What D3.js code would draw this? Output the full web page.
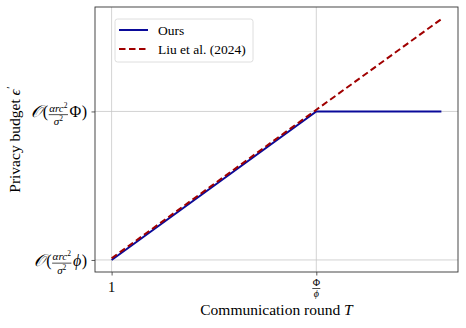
<!DOCTYPE html>
<html>
<head>
<meta charset="utf-8">
<script src="https://cdn.jsdelivr.net/npm/d3@7"></script>
<style>
  body { margin: 0; background: #fff; }
  text { font-family: "Liberation Serif", "DejaVu Serif", serif; fill: #000; }
</style>
</head>
<body>
<script>
// data (phi = 1, Phi = 10 in plot units)
var rounds = [1, 10, 15.5];
var ours = [1, 10, 10];
var liu = [1.1, 10.1, 15.6];
var seriesNames = ["Ours", "Liu et al. (2024)"];

var width = 466, height = 328;
var margin = {left: 95, right: 8, top: 7, bottom: 56};
var pw = width - margin.left - margin.right;
var ph = height - margin.top - margin.bottom;

var svg = d3.select("body").append("svg")
    .attr("width", width)
    .attr("height", height);

// matplotlib style 5% padding
var xpad = (15.6 - 1) * 0.05, ypad = (15.6 - 1) * 0.05;
var x = d3.scaleLinear().domain([1 - xpad, 15.5 + xpad]).range([0, pw]);
var y = d3.scaleLinear().domain([1 - ypad, 15.6 + ypad]).range([ph, 0]);

var g = svg.append("g")
    .attr("transform", "translate(" + margin.left + "," + margin.top + ")");

// grid
var xTicks = [1, 10], yTicks = [1, 10];
g.selectAll("line.gx").data(xTicks).enter().append("line")
    .attr("x1", function(d) {return x(d);}).attr("x2", function(d) {return x(d);})
    .attr("y1", 0).attr("y2", ph)
    .attr("stroke", "#c8c8c8").attr("stroke-width", 0.8);
g.selectAll("line.gy").data(yTicks).enter().append("line")
    .attr("y1", function(d) {return y(d);}).attr("y2", function(d) {return y(d);})
    .attr("x1", 0).attr("x2", pw)
    .attr("stroke", "#c8c8c8").attr("stroke-width", 0.8);

// lines
var line = d3.line()
    .x(function(d) {return x(d[0]);})
    .y(function(d) {return y(d[1]);});

g.append("path")
    .datum(d3.zip(rounds, ours))
    .attr("d", line)
    .attr("fill", "none")
    .attr("stroke", "#0a0a9a")
    .attr("stroke-width", 2);

g.append("path")
    .datum(d3.zip(rounds, liu))
    .attr("d", line)
    .attr("fill", "none")
    .attr("stroke", "#a00000")
    .attr("stroke-width", 2)
    .attr("stroke-dasharray", "6.5,3.5");

// axes
var xAxis = g.append("g")
    .attr("transform", "translate(0," + ph + ")")
    .call(d3.axisBottom(x).tickValues(xTicks).tickSize(3.5).tickFormat(""));
var yAxis = g.append("g")
    .call(d3.axisLeft(y).tickValues(yTicks).tickSize(3.5).tickFormat(""));
[xAxis, yAxis].forEach(function(a) {
    a.select(".domain").remove();
    a.selectAll(".tick line").attr("stroke", "#333").attr("stroke-width", 0.8);
});

// frame
g.append("rect")
    .attr("width", pw).attr("height", ph)
    .attr("fill", "none")
    .attr("stroke", "#333")
    .attr("stroke-width", 0.9);

// x tick labels
g.append("text")
    .attr("x", x(1)).attr("y", ph + 20)
    .attr("text-anchor", "middle")
    .attr("font-size", 14.5)
    .text("1");

var fx = g.append("g").attr("transform", "translate(" + x(10) + "," + ph + ")");
fx.append("text").attr("y", 14).attr("text-anchor", "middle").attr("font-size", 10).text("Φ");
fx.append("line").attr("x1", -4).attr("x2", 4).attr("y1", 16.5).attr("y2", 16.5)
    .attr("stroke", "#000").attr("stroke-width", 0.7);
fx.append("text").attr("y", 24.5).attr("text-anchor", "middle").attr("font-size", 10)
    .attr("font-style", "italic").text("ϕ");

// y tick labels: O( alpha r c^2 / sigma^2  X )
function yLabel(val, sym, italic) {
    var lab = g.append("g");
    var cx = 0;
    var o = lab.append("text").attr("x", cx).attr("y", 6).attr("font-size", 17)
        .style("font-family", "'DejaVu Serif', serif").attr("font-style", "italic").text("𝒪");
    cx += o.node().getComputedTextLength() + 1;
    var p = lab.append("text").attr("x", cx).attr("y", 6).attr("font-size", 16).text("(");
    cx += p.node().getComputedTextLength() + 0.5;
    var num = lab.append("text").attr("y", 0.5).attr("font-size", 11).attr("font-style", "italic");
    num.append("tspan").text("αrc");
    num.append("tspan").attr("dy", -4).attr("font-size", 7.5).attr("font-style", "normal").text("2");
    var nw = num.node().getComputedTextLength();
    var den = lab.append("text").attr("y", 14).attr("font-size", 11).attr("font-style", "italic");
    den.append("tspan").text("σ");
    den.append("tspan").attr("dy", -4).attr("font-size", 7.5).attr("font-style", "normal").text("2");
    var dw = den.node().getComputedTextLength();
    var fw = Math.max(nw, dw) + 1;
    num.attr("x", cx + (fw - nw) / 2);
    den.attr("x", cx + (fw - dw) / 2);
    lab.append("line").attr("x1", cx).attr("x2", cx + fw).attr("y1", 3.2).attr("y2", 3.2)
        .attr("stroke", "#000").attr("stroke-width", 0.7);
    cx += fw + 1.5;
    var s = lab.append("text").attr("x", cx).attr("y", 6).attr("font-size", 16)
        .attr("font-style", italic ? "italic" : "normal").text(sym);
    cx += s.node().getComputedTextLength() + 0.5;
    var c = lab.append("text").attr("x", cx).attr("y", 6).attr("font-size", 16).text(")");
    cx += c.node().getComputedTextLength();
    lab.attr("transform", "translate(" + (-8 - cx) + "," + y(val) + ")");
}
yLabel(1, "ϕ", true);
yLabel(10, "Φ", false);

// axis titles
var xt = svg.append("text")
    .attr("x", margin.left + pw / 2)
    .attr("y", 315)
    .attr("text-anchor", "middle")
    .attr("font-size", 15.5);
xt.append("tspan").text("Communication round ");
xt.append("tspan").attr("font-style", "italic").text("T");

var yt = svg.append("text")
    .attr("transform", "translate(20," + (margin.top + ph / 2) + ") rotate(-90)")
    .attr("text-anchor", "middle")
    .attr("font-size", 15.5);
yt.append("tspan").text("Privacy budget ");
yt.append("tspan").attr("font-style", "italic").text("ϵ");
yt.append("tspan").attr("dy", -6).attr("dx", 0.5).attr("font-size", 11).text("′");

// legend
var leg = svg.append("g").attr("transform", "translate(115,19)");
leg.append("rect")
    .attr("width", 138).attr("height", 43)
    .attr("rx", 2.5)
    .attr("fill", "#fff").attr("fill-opacity", 0.8)
    .attr("stroke", "#d6d6d6").attr("stroke-width", 0.8);
var legColors = ["#0a0a9a", "#a00000"];
var legDash = [null, "6.5,3.5"];
seriesNames.forEach(function(name, i) {
    var yy = 11 + i * 19;
    leg.append("line")
        .attr("x1", 4).attr("x2", 33).attr("y1", yy).attr("y2", yy)
        .attr("stroke", legColors[i]).attr("stroke-width", 2)
        .attr("stroke-dasharray", legDash[i]);
    leg.append("text")
        .attr("x", 43).attr("y", yy + 4.5)
        .attr("font-size", 13.5)
        .text(name);
});
</script>
</body>
</html>
